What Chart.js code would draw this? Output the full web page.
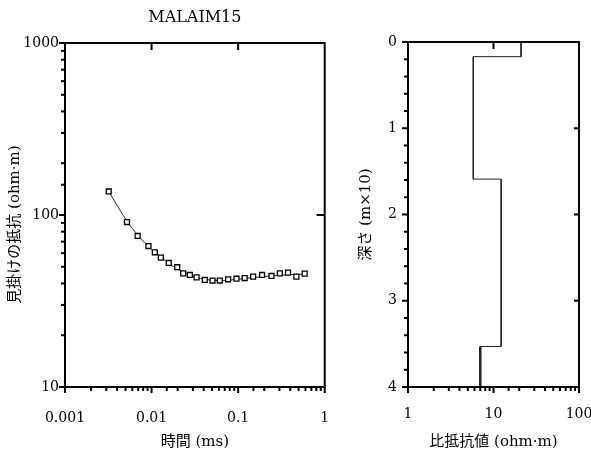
<!DOCTYPE html>
<html>
<head>
<meta charset="utf-8">
<script src="https://cdn.jsdelivr.net/npm/chart.js@4/dist/chart.umd.min.js"></script>
<style>
html, body { margin: 0; padding: 0; background: #fff; }
#wrap { position: relative; width: 591px; height: 455px; }
#left { position: absolute; left: 0; top: 0; }
#right { position: absolute; left: 330px; top: 0; }
</style>
</head>
<body>
<div id="wrap">
  <canvas id="left" width="330" height="455"></canvas>
  <canvas id="right" width="261" height="455"></canvas>
</div>
<script>
// sounding curve (left)
const chartTitle = 'MALAIM15';
const timeMs = [0.0032, 0.0052, 0.0069, 0.0092, 0.0109, 0.0128, 0.0158, 0.0198, 0.0232, 0.0277, 0.0331, 0.0412,
                0.0506, 0.0614, 0.0766, 0.0957, 0.119, 0.149, 0.189, 0.243, 0.303, 0.377, 0.471, 0.587];
const rhoApparent = [137, 91, 75.5, 66, 60.7, 56.5, 52.6, 49.7, 45.8, 44.8, 43.4, 41.9,
                     41.6, 41.6, 42.3, 42.6, 43.0, 43.8, 44.8, 44.2, 45.8, 46.2, 43.8, 45.6];
const modelTime = [0.0032, 0.0052, 0.007, 0.01, 0.015, 0.02, 0.03, 0.045, 0.065, 0.1, 0.15, 0.25, 0.4, 0.6];
const modelRho = [137, 92, 76, 63, 53.5, 48.5, 44, 42, 41.6, 42.3, 43.3, 44.3, 45, 45.3];
const timeTicks = [0.001, 0.01, 0.1, 1];
const timeTickLabels = ['0.001', '0.01', '0.1', '1'];
const rhoTicks = [10, 100, 1000];
const rhoTickLabels = ['10', '100', '1000'];

// layered model (right)
const layerRho = [21, 5.8, 12.3, 7.0];
const layerTop = [0, 0.17, 1.59, 3.53];
const maxDepth = 4;
const resTicks = [1, 10, 100];
const resTickLabels = ['1', '10', '100'];
const depthTicks = [0, 1, 2, 3, 4];
const depthTickLabels = ['0', '1', '2', '3', '4'];

const numFont = { family: 'DejaVu Serif', size: 14 };
const titleFont = { family: "'DejaVu Serif', 'Noto Sans CJK JP'", size: 15 };

function near(a, b) { return Math.abs(a - b) < 1e-6 * Math.max(1, Math.abs(b)); }
function labelFor(vals, labels) {
    return v => { const i = vals.findIndex(t => near(v, t)); return i >= 0 ? labels[i] : ''; };
}
// keep the plot box where the picture has it
function fixX(s) { s.height = 68; s.paddingLeft = 0; s.paddingRight = 0; }

// frame, outward minor/major ticks, inward ticks on top/right
function makeFrame(cfg) {
    return {
        id: 'frame',
        afterDraw(chart) {
            const { ctx, chartArea: a, scales: { x, y } } = chart;
            const seg = (x0, y0, x1, y1) => { ctx.beginPath(); ctx.moveTo(x0, y0); ctx.lineTo(x1, y1); ctx.stroke(); };
            ctx.save();
            ctx.strokeStyle = '#000';
            ctx.lineWidth = 2;
            ctx.strokeRect(a.left, a.top, a.right - a.left, a.bottom - a.top);
            x.ticks.forEach(t => {
                const px = x.getPixelForValue(t.value);
                const major = cfg.majorX.some(v => near(t.value, v));
                seg(px, a.bottom, px, a.bottom + (major ? 6 : 4));
            });
            y.ticks.forEach(t => {
                const py = y.getPixelForValue(t.value);
                const major = cfg.majorY.some(v => near(t.value, v));
                seg(a.left, py, a.left - (major ? 6 : 4), py);
            });
            cfg.topTicks.forEach(v => { const px = x.getPixelForValue(v); seg(px, a.top, px, a.top + 7); });
            cfg.rightTicks.forEach(v => { const py = y.getPixelForValue(v); seg(a.right, py, a.right - cfg.rightLen, py); });
            if (cfg.title) {
                ctx.fillStyle = '#000';
                ctx.font = '16px "DejaVu Serif"';
                ctx.textAlign = 'center';
                ctx.textBaseline = 'middle';
                ctx.fillText(cfg.title, (a.left + a.right) / 2, 18);
            }
            ctx.restore();
        }
    };
}

new Chart(document.getElementById('left'), {
    type: 'scatter',
    data: {
        datasets: [
            {
                data: timeMs.map((t, i) => ({ x: t, y: rhoApparent[i] })),
                pointStyle: 'rect', pointRadius: 3.5, borderWidth: 1.3,
                borderColor: '#000', backgroundColor: '#fff', order: 0
            },
            {
                data: modelTime.map((t, i) => ({ x: t, y: modelRho[i] })),
                showLine: true, pointRadius: 0, borderColor: '#222', borderWidth: 1,
                tension: 0.3, order: 1
            }
        ]
    },
    options: {
        responsive: false, animation: false,
        layout: { padding: { left: 0, right: 5, top: 43, bottom: 0 } },
        plugins: { legend: { display: false }, tooltip: { enabled: false } },
        scales: {
            x: {
                type: 'logarithmic', min: 0.001, max: 1,
                grid: { display: false, drawTicks: false }, border: { display: false },
                ticks: { autoSkip: false, maxRotation: 0, padding: 23, color: '#000', font: numFont,
                         callback: labelFor(timeTicks, timeTickLabels) },
                title: { display: true, text: '時間 (ms)', color: '#000', font: titleFont, padding: { bottom: 4 } },
                afterFit: fixX
            },
            y: {
                type: 'logarithmic', min: 10, max: 1000,
                grid: { display: false, drawTicks: false }, border: { display: false },
                ticks: { autoSkip: false, padding: 6, color: '#000', font: numFont,
                         callback: labelFor(rhoTicks, rhoTickLabels) },
                title: { display: true, text: '見掛けの抵抗 (ohm·m)    ', color: '#000', font: titleFont, padding: { top: 6 } },
                afterFit: s => { s.width = 65; }
            }
        }
    },
    plugins: [makeFrame({ majorX: timeTicks, majorY: rhoTicks, topTicks: [0.01, 0.1], rightTicks: [100], rightLen: 8, title: chartTitle })]
});

const profile = [];
layerRho.forEach((r, i) => {
    const bottom = i + 1 < layerTop.length ? layerTop[i + 1] : maxDepth;
    profile.push({ x: r, y: layerTop[i] }, { x: r, y: bottom });
});

new Chart(document.getElementById('right'), {
    type: 'scatter',
    data: {
        datasets: [{
            data: profile,
            showLine: true, pointRadius: 0, borderColor: '#222', borderWidth: 1,
            segment: { borderWidth: c => c.p0DataIndex >= profile.length - 2 ? 2.5 : 1 }
        }]
    },
    options: {
        responsive: false, animation: false,
        layout: { padding: { left: 0, right: 12, top: 42, bottom: 0 } },
        plugins: { legend: { display: false }, tooltip: { enabled: false } },
        scales: {
            x: {
                type: 'logarithmic', min: 1, max: 100,
                grid: { display: false, drawTicks: false }, border: { display: false },
                ticks: { autoSkip: false, maxRotation: 0, padding: 19, color: '#000', font: numFont,
                         callback: labelFor(resTicks, resTickLabels) },
                title: { display: true, text: '比抵抗値 (ohm·m)', color: '#000', font: titleFont, padding: { bottom: 4 } },
                afterFit: fixX
            },
            y: {
                type: 'linear', reverse: true, min: 0, max: maxDepth,
                grid: { display: false, drawTicks: false }, border: { display: false },
                ticks: { autoSkip: false, stepSize: 0.2, padding: 11, color: '#000', font: numFont,
                         callback: labelFor(depthTicks, depthTickLabels) },
                title: { display: true, text: '深さ (m×10)', color: '#000', font: titleFont, padding: { top: 27 } },
                afterFit: s => { s.width = 78; }
            }
        }
    },
    plugins: [makeFrame({ majorX: resTicks, majorY: depthTicks, topTicks: [10], rightTicks: [1, 2, 3], rightLen: 5 })]
});
</script>
</body>
</html>
